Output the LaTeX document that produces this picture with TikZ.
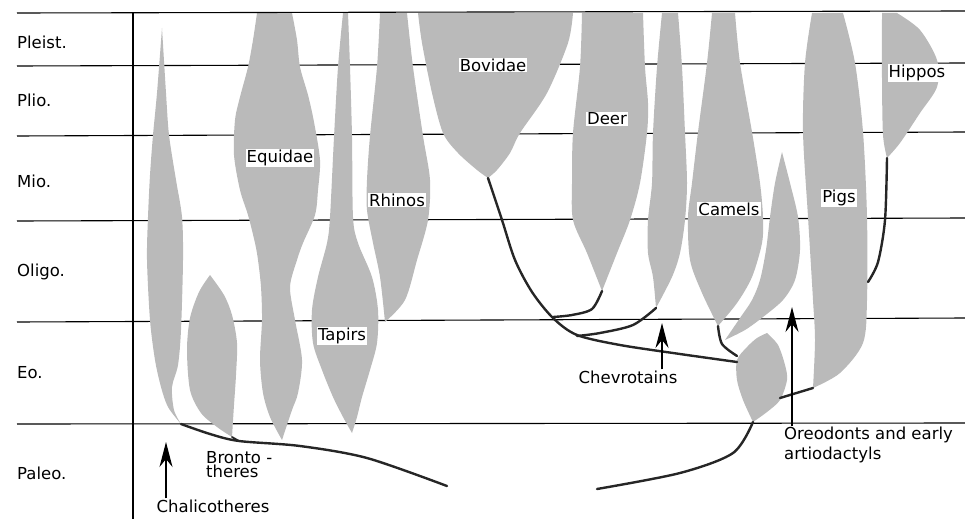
\documentclass[tikz,border=0pt]{standalone}
\usepackage{fontspec}
\setmainfont{DejaVu Sans}
\usetikzlibrary{arrows.meta,positioning}

\begin{document}
\begin{tikzpicture}[x=1pt, y=-1pt,
	every node/.style={font=\fontsize{16.5}{18}\selectfont, inner sep=1pt},
	taxon/.style={fill=black!27},
	tag/.style={fill=white},
	era/.style={anchor=west, inner sep=0pt},
	lineage/.style={line width=2.4pt, black!85, line cap=round},
	pointer/.style={-{Stealth[length=25pt, width=13pt, inset=8pt]}, line width=1.3pt},
	grid/.style={line width=1.1pt}]
	\useasboundingbox (0,0) rectangle (965,519);
	% epochs
	\foreach \y/\z in {66/63, 136/132, 221/218, 322/318, 424/423}
		\draw[grid] (17,\y) -- (965,\z);
	\node[era] (pleist) at (17,42) {Pleist.};
	\node[era] (plio) at (17,100) {Plio.};
	\node[era] (mio) at (17,181) {Mio.};
	\node[era] (oligo) at (17,272) {Oligo.};
	\node[era] (eo) at (17,373) {Eo.};
	\node[era] (paleo) at (17,473) {Paleo.};

	% tips of the lineages
	\coordinate (chaltip) at (181,424);
	\coordinate (bronttip) at (232,437);
	\coordinate (equtip) at (282,440);
	\coordinate (taptip) at (352,433);
	\coordinate (rhitip) at (385,322);
	\coordinate (bovtip) at (488,178);
	\coordinate (deertip) at (602,291);
	\coordinate (chevtip) at (656,308);
	\coordinate (camtip) at (718,326);
	\coordinate (arttip) at (725,340);
	\coordinate (oreotop) at (767,333);
	\coordinate (oreotip) at (753,422);
	\coordinate (pigfoot) at (813,388);
	\coordinate (hiptip) at (887,158);

	% spindles
	\fill[taxon] plot[smooth] coordinates {(162,28) (166,93) (169,135) (176,180) (182,217) (183,260) (181,330) (178,365) (172,387) (174,410) (chaltip)}
		-- plot[smooth] coordinates {(chaltip) (168,407) (161,387) (155,360) (150,320) (147,260) (148,217) (150,175) (153,135) (157,93) (162,28)} -- cycle;
	\fill[taxon] plot[smooth] coordinates {(210,275) (224,295) (232,315) (237,343) (236,375) (234,405) (bronttip)}
		-- plot[smooth] coordinates {(bronttip) (217,427) (201,413) (190,390) (187,350) (190,318) (199,292) (210,275)} -- cycle;
	\fill[taxon] plot[smooth] coordinates {(292,13) (297,40) (300,67) (308,95) (314,122) (320,160) (318,190) (315,215) (303,243) (297,260) (290,287) (295,320) (302,360) (298,393) (292,410) (equtip)}
		-- plot[smooth] coordinates {(equtip) (270,417) (263,393) (260,360) (262,320) (261,287) (258,260) (255,243) (248,215) (240,190) (234,155) (235,120) (240,97) (248,67) (253,40) (257,13)} -- cycle;
	\fill[taxon] plot[smooth] coordinates {(348,13) (350,67) (352,137) (353,217) (358,243) (372,277) (378,310) (377,343) (370,370) (362,397) (357,417) (taptip)}
		-- plot[smooth] coordinates {(taptip) (343,417) (333,397) (322,370) (313,343) (312,310) (318,277) (327,243) (330,217) (334,137) (338,67) (343,13)} -- cycle;
	\fill[taxon] plot[smooth] coordinates {(407,13) (413,67) (423,136) (430,180) (428,220) (417,260) (405,300) (rhitip)}
		-- plot[smooth] coordinates {(rhitip) (380,277) (373,243) (367,210) (367,180) (370,136) (377,67) (380,13)} -- cycle;
	\fill[taxon] plot[smooth] coordinates {(573,13) (568,43) (547,93) (520,133) (510,153) (497,170) (bovtip)}
		-- plot[smooth] coordinates {(bovtip) (477,170) (458,153) (443,133) (432,93) (422,43) (418,13)} -- cycle;
	\fill[taxon] plot[smooth] coordinates {(643,13) (645,67) (648,103) (647,133) (640,183) (630,220) (617,253) (deertip)}
		-- plot[smooth] coordinates {(deertip) (587,253) (573,220) (572,183) (573,133) (580,67) (582,13)} -- cycle;
	\fill[taxon] plot[smooth] coordinates {(678,13) (682,67) (685,133) (687,183) (685,220) (680,253) (672,277) (chevtip)}
		-- plot[smooth] coordinates {(chevtip) (653,277) (648,253) (648,220) (652,183) (653,133) (657,67) (662,13)} -- cycle;
	\fill[taxon] plot[smooth] coordinates {(735,13) (740,63) (752,132) (760,183) (763,217) (762,243) (752,277) (737,303) (camtip)}
		-- plot[smooth] coordinates {(camtip) (702,293) (690,260) (688,217) (692,183) (698,132) (707,63) (712,13)} -- cycle;
	\fill[taxon] plot[smooth] coordinates {(782,152) (790,183) (798,217) (800,250) (795,280) (783,300) (763,317) (745,330) (arttip)}
		-- plot[smooth] coordinates {(arttip) (740,318) (752,300) (760,280) (766,250) (770,217) (775,183) (782,152)} -- cycle;
	\fill[taxon] plot[smooth] coordinates {(oreotop) (778,345) (785,365) (787,380) (780,400) (767,412) (oreotip)}
		-- plot[smooth] coordinates {(oreotip) (743,400) (737,380) (737,360) (747,347) (757,338) (oreotop)} -- cycle;
	\fill[taxon] plot[smooth] coordinates {(843,13) (855,63) (863,132) (867,217) (867,300) (863,343) (840,373) (pigfoot)}
		-- plot[smooth] coordinates {(pigfoot) (815,340) (813,300) (808,217) (803,132) (805,63) (812,13)} -- cycle;
	\fill[taxon] plot[smooth] coordinates {(897,13) (920,30) (937,60) (937,87) (920,113) (900,143) (hiptip)}
		-- plot[smooth] coordinates {(hiptip) (883,135) (882,80) (882,13)} -- cycle;

	\draw[grid] (17,13) -- (965,11);
	\draw[line width=1.4pt] (133,13) -- (133,519);

	% lines of descent
	\coordinate (fork) at (239,441);
	\draw[lineage] plot[smooth] coordinates {(chaltip) (210,434) (fork) (300,446) (367,458) (447,486)};
	\draw[lineage, line width=1.8pt] (bronttip) -- (fork);
	\draw[lineage] plot[smooth] coordinates {(bovtip) (502,220) (515,260) (532,292) (553,318) (577,335) (620,345) (680,354) (737,362)};
	\draw[lineage] plot[smooth] coordinates {(deertip) (592,309) (572,315) (553,317)};
	\draw[lineage] plot[smooth] coordinates {(chevtip) (633,325) (600,333) (577,336)};
	\draw[lineage] plot[smooth] coordinates {(camtip) (722,344) (737,356)};
	\draw[lineage] (780,398) -- (pigfoot);
	\draw[lineage] plot[smooth] coordinates {(oreotip) (733,453) (680,473) (597,489)};
	\draw[lineage] plot[smooth] coordinates {(hiptip) (885,220) (878,262) (868,282)};

	% names
	\node[tag] (equ) at (280,158) {Equidae};
	\node[tag] (rhi) at (397,200) {Rhinos};
	\node[tag] (bov) at (493,65) {Bovidae};
	\node[tag] (deer) at (607,119) {Deer};
	\node[tag] (cam) at (729,209) {Camels};
	\node[tag] (pig) at (839,198) {Pigs};
	\node[tag] (hip) at (917,73) {Hippos};
	\node[tag] (tap) at (342,336) {Tapirs};
	\node[align=left, anchor=north west, font=\fontsize{16.5}{14.5}\selectfont] (bront) at (205,450) {Bronto -\\theres};

	\node (chal) at (213,506) {Chalicotheres};
	\coordinate (chalpt) at (166,442);
	\draw[pointer] (chal.north -| chalpt) -- (chalpt);
	\node (chev) at (628,377) {Chevrotains};
	\coordinate (chevpt) at (662,323);
	\draw[pointer] (chev.north -| chevpt) -- (chevpt);
	\node[align=left, anchor=north west, font=\fontsize{16.5}{20}\selectfont] (oreo) at (783,426) {Oreodonts and early\\artiodactyls};
	\coordinate (oreopt) at (792,307);
	\draw[pointer] (oreo.north -| oreopt) -- (oreopt);
\end{tikzpicture}
\end{document}
